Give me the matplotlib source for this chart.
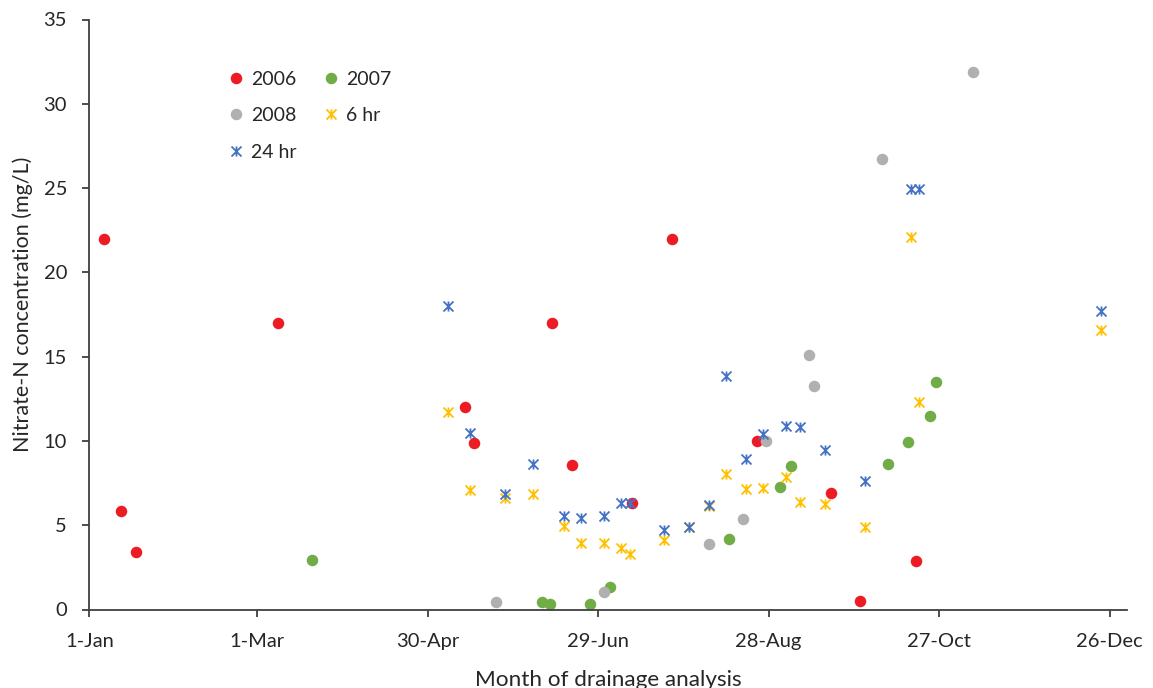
import matplotlib
matplotlib.use("Agg")
import matplotlib.pyplot as plt
from matplotlib.path import Path

# x = days after 1-Jan, y = nitrate-N (mg/L)
x_2006 = [5.3, 11.3, 16.3, 66.3, 132.2, 135.3, 162.8, 170.0, 191.1, 205.0, 235.0, 261.1, 271.2, 291.0]
y_2006 = [22.0, 5.85, 3.4, 17.0, 12.0, 9.86, 17.0, 8.6, 6.3, 22.0, 10.0, 6.9, 0.52, 2.9]

x_2007 = [78.4, 159.4, 162.2, 176.2, 183.2, 225.1, 243.0, 247.0, 280.9, 288.0, 295.9, 297.9]
y_2007 = [2.94, 0.45, 0.35, 0.33, 1.35, 4.18, 7.29, 8.52, 8.62, 9.96, 11.5, 13.5]

x_2008 = [143.1, 181.1, 218.2, 230.1, 238.0, 253.1, 255.0, 279.0, 310.9]
y_2008 = [0.45, 1.06, 3.89, 5.37, 10.0, 15.1, 13.25, 26.7, 31.9]

x_6hr = [126.3, 134.1, 146.2, 156.1, 167.1, 173.1, 181.1, 187.1, 190.1, 202.1, 211.1,
         218.2, 224.0, 231.1, 237.0, 245.1, 250.0, 259.0, 273.0, 289.0, 292.0, 356.0]
y_6hr = [11.7, 7.07, 6.6, 6.87, 4.96, 3.95, 3.95, 3.65, 3.29, 4.12, 4.91,
         6.16, 8.02, 7.15, 7.23, 7.86, 6.38, 6.28, 4.9, 22.1, 12.3, 16.6]

x_24hr = [126.3, 134.1, 146.2, 156.1, 167.1, 173.1, 181.1, 187.1, 190.2, 202.1, 211.1,
          218.2, 224.0, 231.1, 237.0, 245.1, 250.0, 259.0, 273.0, 289.0, 292.0, 356.0]
y_24hr = [18.0, 10.47, 6.87, 8.62, 5.55, 5.41, 5.55, 6.3, 6.3, 4.72, 4.91,
          6.2, 13.88, 8.91, 10.42, 10.91, 10.81, 9.45, 7.65, 24.97, 24.97, 17.7]

tick_days = [0, 59, 119, 179, 239, 299, 359]
tick_labels = ['1-Jan', '1-Mar', '30-Apr', '29-Jun', '28-Aug', '27-Oct', '26-Dec']

plt.rcParams['font.family'] = ['Lato', 'DejaVu Sans']
text_color = '#262626'
axis_color = '#3f3f3f'

# Excel-style asterisk: an X with a vertical bar
star = Path([(-1, -1), (1, 1), (-1, 1), (1, -1), (0, -1), (0, 1)],
            [Path.MOVETO, Path.LINETO, Path.MOVETO, Path.LINETO, Path.MOVETO, Path.LINETO])

fig = plt.figure(figsize=(11.53, 6.88), dpi=100)
ax = fig.add_axes([89.3 / 1153, 1 - 609.5 / 688, (1126.7 - 89.3) / 1153, 590 / 688])

dot = dict(linestyle='none', marker='o', markersize=8.3, markeredgewidth=0)
h06, = ax.plot(x_2006, y_2006, color='#ED1C24', label='2006', **dot)
h07, = ax.plot(x_2007, y_2007, color='#70AD47', label='2007', **dot)
h08, = ax.plot(x_2008, y_2008, color='#B0B0B0', label='2008', **dot)
ast = dict(linestyle='none', marker=star, markersize=7.2, markeredgewidth=1.3,
           markerfacecolor='none')
h6, = ax.plot(x_6hr, y_6hr, markeredgecolor='#FFC000', label='6 hr', **ast)
h24, = ax.plot(x_24hr, y_24hr, markeredgecolor='#4472C4', label='24 hr', **ast)

ax.set_xlim(0, 365)
ax.set_ylim(0, 35)
ax.set_xticks(tick_days)
ax.set_xticklabels(tick_labels)
ax.set_yticks(range(0, 36, 5))

for s in ['top', 'right']:
    ax.spines[s].set_visible(False)
for s in ['left', 'bottom']:
    ax.spines[s].set_color(axis_color)
    ax.spines[s].set_linewidth(1.3)
ax.tick_params(axis='both', colors=axis_color, labelcolor=text_color,
               labelsize=14.5, length=5, width=1.3, direction='out')
ax.tick_params(axis='y', pad=11)
ax.tick_params(axis='x', pad=12)

ax.set_ylabel('Nitrate-N concentration (mg/L)', fontsize=15.5, color=text_color)
ax.yaxis.set_label_coords(-0.0543, 0.517)
ax.set_xlabel('Month of drainage analysis', fontsize=16.2, color=text_color)
ax.xaxis.set_label_coords(0.5, -0.103)

ax.legend(handles=[h06, h08, h24, h07, h6], ncol=2, frameon=False,
          fontsize=14, loc='upper left', bbox_to_anchor=(0.115, 0.943),
          handlelength=1.0, handletextpad=0.3, columnspacing=1.25,
          labelspacing=1.0, labelcolor=text_color)

fig.savefig('out.png', dpi=100)
